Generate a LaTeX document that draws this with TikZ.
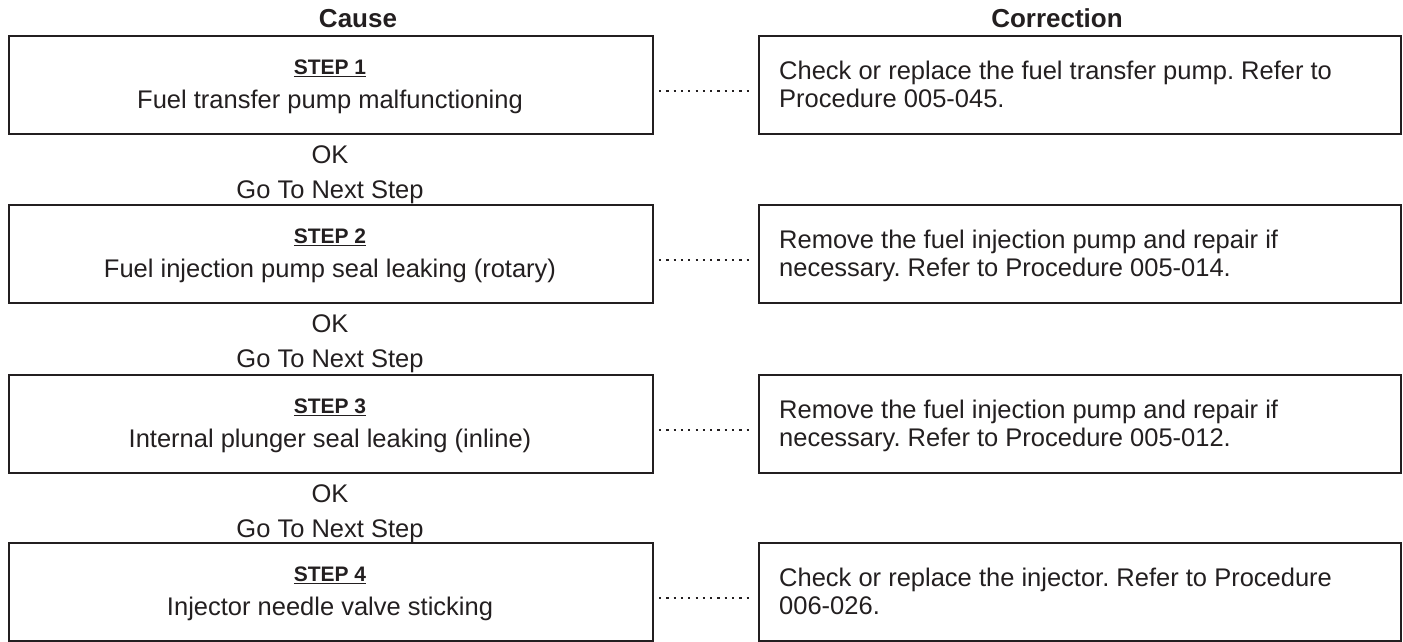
\documentclass[tikz,border=0pt]{standalone}
\usepackage{fontspec}
\setmainfont{Liberation Sans}
\definecolor{ink}{HTML}{231F20}
\frenchspacing
\begin{document}
\begin{tikzpicture}[x=1pt,y=-1pt,
  cbox/.style={draw=ink,line width=2pt,minimum width=644pt,minimum height=98pt,anchor=north west,inner sep=0pt},
  rbox/.style={draw=ink,line width=2pt,minimum width=642pt,minimum height=98pt,anchor=north west,inner sep=0pt},
  hdr/.style={font=\fontsize{26}{30}\selectfont\bfseries,text=ink,inner sep=0pt,anchor=base},
  steplbl/.style={font=\fontsize{21}{25}\selectfont\bfseries,text=ink,inner sep=0pt,anchor=base},
  ctext/.style={font=\fontsize{25.5}{30}\selectfont,text=ink,inner sep=0pt,anchor=base},
  rtext/.style={font=\fontsize{25.5}{28}\selectfont,text=ink,inner sep=0pt,align=left,anchor=base west},
  dots/.style={draw=ink,line width=2.4pt,dash pattern=on 2.2pt off 5.1pt}
]
\useasboundingbox (0,0) rectangle (1403,641);
\newcommand{\stepul}[1]{\underline{#1}}

\node[hdr] (hc) at (358,27) {Cause};
\node[hdr] (hr) at (1057,27) {Correction};

% Step 1
\node[cbox] (c1) at (8,35) {};
\node[rbox] (r1) at (758,35) {};
\node[steplbl] (s1) at (330,74.5) {\stepul{STEP 1}};
\node[ctext] (t1) at (330,108.5) {Fuel transfer pump malfunctioning};
\node[rtext] (x1) at (779,107) {Check or replace the fuel transfer pump. Refer to\\Procedure 005-045.};
\draw[dots] ([xshift=5pt,yshift=-6pt]c1.east) -- ([xshift=-5pt,yshift=-6pt]r1.west);
\node[ctext] (ok1) at (330,163) {OK};
\node[ctext] (go1) at (330,198) {Go To Next Step};

% Step 2
\node[cbox] (c2) at (8,204) {};
\node[rbox] (r2) at (758,204) {};
\node[steplbl] (s2) at (330,243.5) {\stepul{STEP 2}};
\node[ctext] (t2) at (330,277.5) {Fuel injection pump seal leaking (rotary)};
\node[rtext] (x2) at (779,276) {Remove the fuel injection pump and repair if\\necessary. Refer to Procedure 005-014.};
\draw[dots] ([xshift=5pt,yshift=-6pt]c2.east) -- ([xshift=-5pt,yshift=-6pt]r2.west);
\node[ctext] (ok2) at (330,332) {OK};
\node[ctext] (go2) at (330,367) {Go To Next Step};

% Step 3
\node[cbox] (c3) at (8,374) {};
\node[rbox] (r3) at (758,374) {};
\node[steplbl] (s3) at (330,413.5) {\stepul{STEP 3}};
\node[ctext] (t3) at (330,447.5) {Internal plunger seal leaking (inline)};
\node[rtext] (x3) at (779,446) {Remove the fuel injection pump and repair if\\necessary. Refer to Procedure 005-012.};
\draw[dots] ([xshift=5pt,yshift=-6pt]c3.east) -- ([xshift=-5pt,yshift=-6pt]r3.west);
\node[ctext] (ok3) at (330,502) {OK};
\node[ctext] (go3) at (330,537) {Go To Next Step};

% Step 4
\node[cbox] (c4) at (8,542) {};
\node[rbox] (r4) at (758,542) {};
\node[steplbl] (s4) at (330,581.5) {\stepul{STEP 4}};
\node[ctext] (t4) at (330,615.5) {Injector needle valve sticking};
\node[rtext] (x4) at (779,614) {Check or replace the injector. Refer to Procedure\\006-026.};
\draw[dots] ([xshift=5pt,yshift=-6pt]c4.east) -- ([xshift=-5pt,yshift=-6pt]r4.west);
\end{tikzpicture}
\end{document}
